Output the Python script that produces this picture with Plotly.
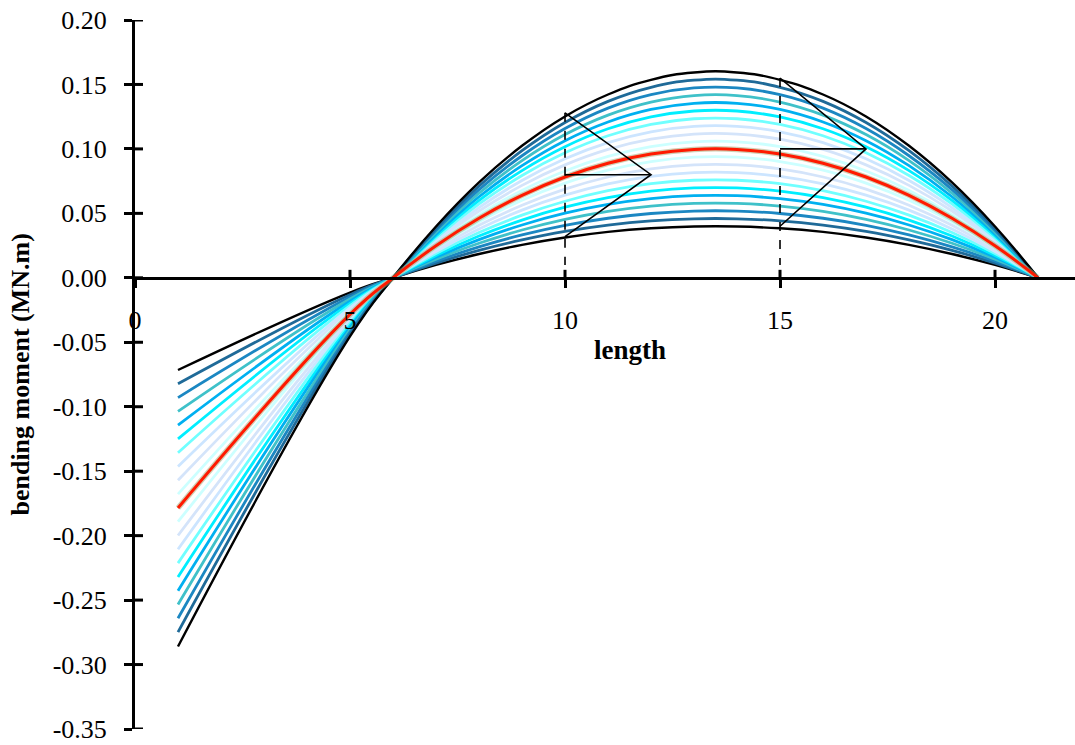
import plotly.graph_objects as go

# Positions along the beam (m)
length_pts = [1, 5, 6, 7, 8, 9, 10, 11, 12, 13, 14, 15, 16, 17, 18, 19, 20, 21]

# Bending moment (MN.m) of each load case at the positions above
moments = [
    [-0.0715, -0.0114, 0, 0.0100, 0.0185, 0.0256, 0.0313, 0.0356, 0.0384, 0.0398, 0.0398, 0.0384, 0.0356, 0.0313, 0.0256, 0.0185, 0.0100, 0],
    [-0.0822, -0.0131, 0, 0.0114, 0.0213, 0.0294, 0.0360, 0.0409, 0.0442, 0.0458, 0.0458, 0.0442, 0.0409, 0.0360, 0.0294, 0.0213, 0.0114, 0],
    [-0.0929, -0.0148, 0, 0.0129, 0.0240, 0.0333, 0.0407, 0.0462, 0.0499, 0.0518, 0.0518, 0.0499, 0.0462, 0.0407, 0.0333, 0.0240, 0.0129, 0],
    [-0.1036, -0.0165, 0, 0.0144, 0.0268, 0.0371, 0.0454, 0.0516, 0.0557, 0.0577, 0.0577, 0.0557, 0.0516, 0.0454, 0.0371, 0.0268, 0.0144, 0],
    [-0.1143, -0.0182, 0, 0.0159, 0.0296, 0.0410, 0.0501, 0.0569, 0.0614, 0.0637, 0.0637, 0.0614, 0.0569, 0.0501, 0.0410, 0.0296, 0.0159, 0],
    [-0.1250, -0.0199, 0, 0.0174, 0.0324, 0.0448, 0.0548, 0.0622, 0.0672, 0.0697, 0.0697, 0.0672, 0.0622, 0.0548, 0.0448, 0.0324, 0.0174, 0],
    [-0.1357, -0.0216, 0, 0.0189, 0.0351, 0.0486, 0.0594, 0.0676, 0.0730, 0.0757, 0.0757, 0.0730, 0.0676, 0.0594, 0.0486, 0.0351, 0.0189, 0],
    [-0.1464, -0.0233, 0, 0.0204, 0.0379, 0.0525, 0.0641, 0.0729, 0.0787, 0.0816, 0.0816, 0.0787, 0.0729, 0.0641, 0.0525, 0.0379, 0.0204, 0],
    [-0.1571, -0.0250, 0, 0.0219, 0.0407, 0.0563, 0.0688, 0.0782, 0.0845, 0.0876, 0.0876, 0.0845, 0.0782, 0.0688, 0.0563, 0.0407, 0.0219, 0],
    [-0.1678, -0.0267, 0, 0.0234, 0.0434, 0.0602, 0.0735, 0.0836, 0.0902, 0.0936, 0.0936, 0.0902, 0.0836, 0.0735, 0.0602, 0.0434, 0.0234, 0],
    [-0.1785, -0.0284, 0, 0.0249, 0.0462, 0.0640, 0.0782, 0.0889, 0.0960, 0.0996, 0.0996, 0.0960, 0.0889, 0.0782, 0.0640, 0.0462, 0.0249, 0],
    [-0.1892, -0.0302, 0, 0.0264, 0.0490, 0.0678, 0.0829, 0.0942, 0.1018, 0.1055, 0.1055, 0.1018, 0.0942, 0.0829, 0.0678, 0.0490, 0.0264, 0],
    [-0.1999, -0.0319, 0, 0.0279, 0.0518, 0.0717, 0.0876, 0.0996, 0.1075, 0.1115, 0.1115, 0.1075, 0.0996, 0.0876, 0.0717, 0.0518, 0.0279, 0],
    [-0.2106, -0.0336, 0, 0.0294, 0.0545, 0.0755, 0.0923, 0.1049, 0.1133, 0.1175, 0.1175, 0.1133, 0.1049, 0.0923, 0.0755, 0.0545, 0.0294, 0],
    [-0.2213, -0.0353, 0, 0.0309, 0.0573, 0.0794, 0.0970, 0.1102, 0.1190, 0.1234, 0.1234, 0.1190, 0.1102, 0.0970, 0.0794, 0.0573, 0.0309, 0],
    [-0.2320, -0.0370, 0, 0.0324, 0.0601, 0.0832, 0.1017, 0.1156, 0.1248, 0.1294, 0.1294, 0.1248, 0.1156, 0.1017, 0.0832, 0.0601, 0.0324, 0],
    [-0.2427, -0.0387, 0, 0.0338, 0.0629, 0.0870, 0.1064, 0.1209, 0.1306, 0.1354, 0.1354, 0.1306, 0.1209, 0.1064, 0.0870, 0.0629, 0.0338, 0],
    [-0.2534, -0.0404, 0, 0.0353, 0.0656, 0.0909, 0.1111, 0.1262, 0.1363, 0.1414, 0.1414, 0.1363, 0.1262, 0.1111, 0.0909, 0.0656, 0.0353, 0],
    [-0.2641, -0.0421, 0, 0.0368, 0.0684, 0.0947, 0.1158, 0.1316, 0.1421, 0.1473, 0.1473, 0.1421, 0.1316, 0.1158, 0.0947, 0.0684, 0.0368, 0],
    [-0.2748, -0.0438, 0, 0.0383, 0.0712, 0.0986, 0.1205, 0.1369, 0.1478, 0.1533, 0.1533, 0.1478, 0.1369, 0.1205, 0.0986, 0.0712, 0.0383, 0],
    [-0.2860, -0.0455, 0, 0.0398, 0.0740, 0.1024, 0.1252, 0.1422, 0.1536, 0.1593, 0.1593, 0.1536, 0.1422, 0.1252, 0.1024, 0.0740, 0.0398, 0],
]

# Line colours, outermost curve first, mirrored about the mean (red) curve
outer_colors = ["#000000", "#1F6A98", "#1B87C2", "#3FC1C9", "#00B0F0",
                "#00EEFF", "#70FFFF", "#CCE5FF", "#D4E4FA", "#CCFFFF"]
mean_color = "#FF1A00"
curve_colors = outer_colors + [mean_color] + outer_colors[::-1]

# Distribution sketches at two sections: section x, apex x, top, mean, bottom
sections = [10, 15]
apex_x = [12, 17]
dist_top = [0.128, 0.155]
dist_mean = [0.080, 0.100]
dist_bottom = [0.032, 0.040]

y_ticks = [0.20, 0.15, 0.10, 0.05, 0.00, -0.05, -0.10, -0.15, -0.20, -0.25, -0.30, -0.35]
y_tick_text = ["%.2f" % v for v in y_ticks]
x_ticks = [0, 5, 10, 15, 20]

serif = "Liberation Serif"

fig = go.Figure()

mid = len(moments) // 2
order = [i for i in range(len(moments)) if i != mid]
for i in order:
    color = curve_colors[i]
    width = 2.4 if color == "#000000" else 2.8
    fig.add_trace(go.Scatter(
        x=length_pts, y=moments[i], mode="lines",
        line=dict(color=color, width=width, shape="spline", smoothing=1.3),
        showlegend=False, hoverinfo="skip"))

# mean curve with its soft outline, drawn last
fig.add_trace(go.Scatter(
    x=length_pts, y=moments[mid], mode="lines",
    line=dict(color="rgba(170,170,120,0.55)", width=5.5, shape="spline", smoothing=1.3),
    showlegend=False, hoverinfo="skip"))
fig.add_trace(go.Scatter(
    x=length_pts, y=moments[mid], mode="lines",
    line=dict(color=mean_color, width=3.0, shape="spline", smoothing=1.3),
    showlegend=False, hoverinfo="skip"))

# Triangular distribution sketches
for sx, ax, t, m, b in zip(sections, apex_x, dist_top, dist_mean, dist_bottom):
    fig.add_trace(go.Scatter(
        x=[sx, ax, sx, None, sx, ax], y=[t, m, b, None, m, m], mode="lines",
        line=dict(color="black", width=1.6),
        showlegend=False, hoverinfo="skip"))

shapes = []
# dashed section markers
for sx, t in zip(sections, dist_top):
    shapes.append(dict(type="line", xref="x", yref="y", x0=sx, x1=sx, y0=t, y1=0.010,
                       line=dict(color="black", width=1.6, dash="dash")))
# inner halves of the y-axis tick marks
for v in y_ticks:
    shapes.append(dict(type="line", xref="x", yref="y", xsizemode="pixel", xanchor=0,
                       x0=0, x1=8, y0=v, y1=v, line=dict(color="black", width=3)))
# upper halves of the x-axis tick marks
for v in x_ticks[1:]:
    shapes.append(dict(type="line", xref="x", yref="y", ysizemode="pixel", yanchor=0,
                       y0=0, y1=8, x0=v, x1=v, line=dict(color="black", width=3)))

annotations = [
    dict(text="<b>length</b>", x=11.5, y=-0.056, xref="x", yref="y", showarrow=False,
         xanchor="center", yanchor="middle",
         font=dict(family=serif, size=27, color="black")),
    dict(text="<b>bending moment (MN.m)</b>", x=-0.1223, y=0.5, xref="paper", yref="paper",
         xanchor="center", yanchor="middle",
         textangle=-90, showarrow=False, font=dict(family=serif, size=26, color="black")),
]

tick_font = dict(family=serif, size=26, color="black")

fig.update_layout(
    width=1075, height=745,
    margin=dict(l=135, r=0, t=20, b=16),
    paper_bgcolor="white", plot_bgcolor="white",
    font=dict(family=serif, size=26, color="black"),
    shapes=shapes, annotations=annotations,
    xaxis=dict(range=[0, 21.86], anchor="free", position=0.35 / 0.55,
               showline=True, linewidth=3, linecolor="black",
               ticks="outside", ticklen=8, tickwidth=3, tickcolor="black",
               tickmode="array", tickvals=x_ticks, ticktext=[str(v) for v in x_ticks],
               ticklabelstandoff=10, tickfont=tick_font,
               showgrid=False, zeroline=False),
    yaxis=dict(range=[-0.35, 0.20], showline=True, linewidth=3, linecolor="black",
               ticks="outside", ticklen=8, tickwidth=3, tickcolor="black",
               tickmode="array", tickvals=y_ticks, ticktext=y_tick_text,
               ticklabelstandoff=12, tickfont=tick_font,
               showgrid=False, zeroline=False),
)

fig.write_html("out.html")
